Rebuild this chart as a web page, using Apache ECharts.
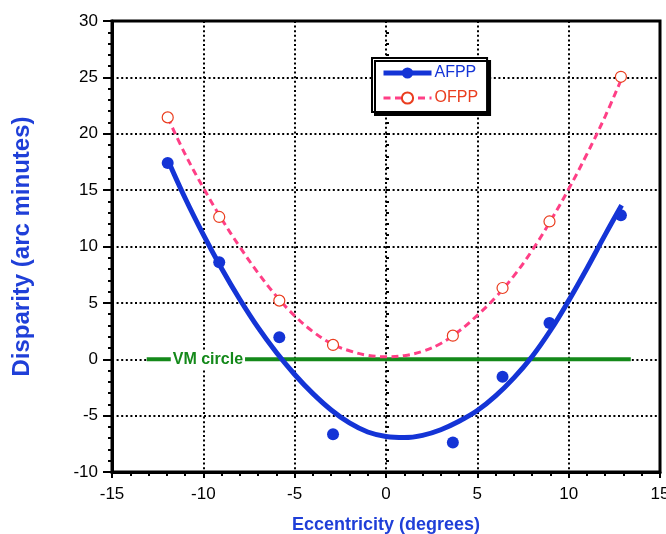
<!DOCTYPE html>
<html>
<head>
<meta charset="utf-8">
<script src="https://cdn.jsdelivr.net/npm/echarts@6/dist/echarts.min.js"></script>
<style>html,body{margin:0;padding:0;background:#fff;}#c{width:666px;height:534px;}</style>
</head>
<body>
<div id="c"></div>
<script>
// Measured points
var pointX = [-11.95, -9.13, -5.84, -2.9, 3.66, 6.38, 8.95, 12.86];
var afppY = [17.4, 8.6, 1.95, -6.65, -7.38, -1.56, 3.22, 12.78];
var ofppY = [21.45, 12.62, 5.2, 1.27, 2.09, 6.32, 12.22, 25.05];
// Fitted curves
var fitX = [-11.95, -11, -10, -9, -8, -7, -6, -5, -4, -3, -2, -1, 0, 1, 2, 3, 4, 5, 6, 7, 8, 9, 10, 11, 12, 12.9];
var afppFitY = [17.7, 14.3, 11.05, 8.05, 5.3, 2.8, 0.6, -1.35, -3.05, -4.5, -5.65, -6.45, -6.85, -6.95, -6.75, -6.25, -5.5, -4.55, -3.25, -1.65, 0.25, 2.55, 5.2, 8.05, 11.05, 13.65];
var ofppFitY = [21.45, 18.2, 15.2, 12.45, 9.95, 7.65, 5.6, 3.85, 2.45, 1.4, 0.75, 0.35, 0.22, 0.32, 0.7, 1.4, 2.5, 3.9, 5.5, 7.4, 9.65, 12.25, 15.1, 18.2, 21.55, 24.9];
// VM circle reference line
var vmX = [-13.1, 13.4];
var vmY = [0, 0];
var vmLabelPos = [-9.75, 0];
var xTicks = [-15, 15, 5];
var yTicks = [-10, 30, 5];

function zip(a, b) { return a.map(function (v, i) { return [v, b[i]]; }); }

var BLUE = '#1434d6', PINK = '#ff3f86', RED = '#ea3d1e', GREEN = '#14891a', TITLE = '#1f3fd8';
var FONT = 'Liberation Sans, Arial, Helvetica, sans-serif';
var dotted = { color: '#000', width: 2, type: [2, 2.6] };

var chart = echarts.init(document.getElementById('c'), null, { renderer: 'canvas' });
chart.setOption({
  animation: false,
  grid: { left: 112, right: 6, top: 21, bottom: 62, containLabel: false, outerBoundsMode: 'none', show: true, borderColor: '#000', borderWidth: 3, backgroundColor: 'transparent' },
  legend: {
    left: 372, top: 58, orient: 'vertical',
    itemWidth: 48, itemHeight: 14, itemGap: 9,
    padding: [7, 9, 6, 9],
    backgroundColor: '#fff', borderColor: '#000', borderWidth: 2,
    shadowColor: '#000', shadowBlur: 0, shadowOffsetX: 3, shadowOffsetY: 3,
    lineStyle: { width: 'inherit', type: 'inherit' },
    textStyle: { fontFamily: FONT, fontSize: 16, padding: [0, 0, 0, -2] },
    data: [
      { name: 'AFPP', textStyle: { color: BLUE } },
      { name: 'OFPP', textStyle: { color: RED } }
    ]
  },
  xAxis: {
    type: 'value', min: xTicks[0], max: xTicks[1], interval: xTicks[2],
    name: 'Eccentricity (degrees)', nameLocation: 'middle', nameGap: 44,
    nameTextStyle: { color: TITLE, fontFamily: FONT, fontSize: 18, fontWeight: 'bold' },
    axisLine: { show: true, onZero: false, lineStyle: { color: '#000', width: 3 } },
    axisTick: { show: true, length: 6, lineStyle: { color: '#000', width: 2 } },
    minorTick: { show: true, splitNumber: 5, length: 4, lineStyle: { color: '#000', width: 2 } },
    axisLabel: { color: '#000', fontFamily: FONT, fontSize: 17, margin: 14 },
    splitLine: { show: true, lineStyle: dotted }
  },
  yAxis: [{
    type: 'value', min: yTicks[0], max: yTicks[1], interval: yTicks[2],
    name: 'Disparity (arc minutes)', nameLocation: 'middle', nameGap: 78, nameRotate: 90,
    nameTextStyle: { color: TITLE, fontFamily: FONT, fontSize: 24, fontWeight: 'bold' },
    axisLine: { show: true, onZero: false, lineStyle: { color: '#000', width: 3 } },
    axisTick: { show: true, length: 9, lineStyle: { color: '#000', width: 2 } },
    minorTick: { show: true, splitNumber: 5, length: 4, lineStyle: { color: '#000', width: 2 } },
    axisLabel: { color: '#000', fontFamily: FONT, fontSize: 17, margin: 14 },
    splitLine: { show: true, lineStyle: dotted }
  }, {
    type: 'value', position: 'left', min: yTicks[0], max: yTicks[1], interval: yTicks[2],
    axisLine: { show: false },
    axisTick: { show: true, inside: true, length: 3, lineStyle: { color: '#000', width: 2 } },
    minorTick: { show: true, splitNumber: 5, length: 3, lineStyle: { color: '#000', width: 2 } },
    axisLabel: { show: false },
    splitLine: { show: false }
  }],
  series: [
    {
      type: 'line', name: 'VM', data: zip(vmX, vmY), symbol: 'none', silent: true, z: 2,
      lineStyle: { color: GREEN, width: 4 }
    },
    {
      type: 'scatter', name: 'VMlabel', data: [vmLabelPos], symbolSize: 1, silent: true, z: 3,
      itemStyle: { color: 'rgba(0,0,0,0)', opacity: 1 },
      label: { show: true, position: 'inside', formatter: 'VM circle', color: GREEN, opacity: 1, fontFamily: FONT, fontSize: 16, fontWeight: 'bold', backgroundColor: '#fff', padding: [1, 2] }
    },
    {
      type: 'line', name: 'AFPP', data: zip(fitX, afppFitY), smooth: 0.4, showSymbol: false, symbol: 'circle', z: 4,
      lineStyle: { color: BLUE, width: 5 }, itemStyle: { color: BLUE }
    },
    {
      type: 'line', name: 'OFPP', data: zip(fitX, ofppFitY), smooth: 0.4, showSymbol: false, symbol: 'emptyCircle', z: 4,
      lineStyle: { color: PINK, width: 3, type: [7, 4.5] }, itemStyle: { color: RED }
    },
    {
      type: 'scatter', name: 'AFPP', data: zip(pointX, afppY), symbol: 'circle', symbolSize: 12, z: 5,
      itemStyle: { color: BLUE, opacity: 1 }
    },
    {
      type: 'scatter', name: 'OFPP', data: zip(pointX, ofppY), symbol: 'circle', symbolSize: 11, z: 5,
      itemStyle: { color: '#fff', borderColor: RED, borderWidth: 1.2, opacity: 1 }
    }
  ]
});
</script>
</body>
</html>
